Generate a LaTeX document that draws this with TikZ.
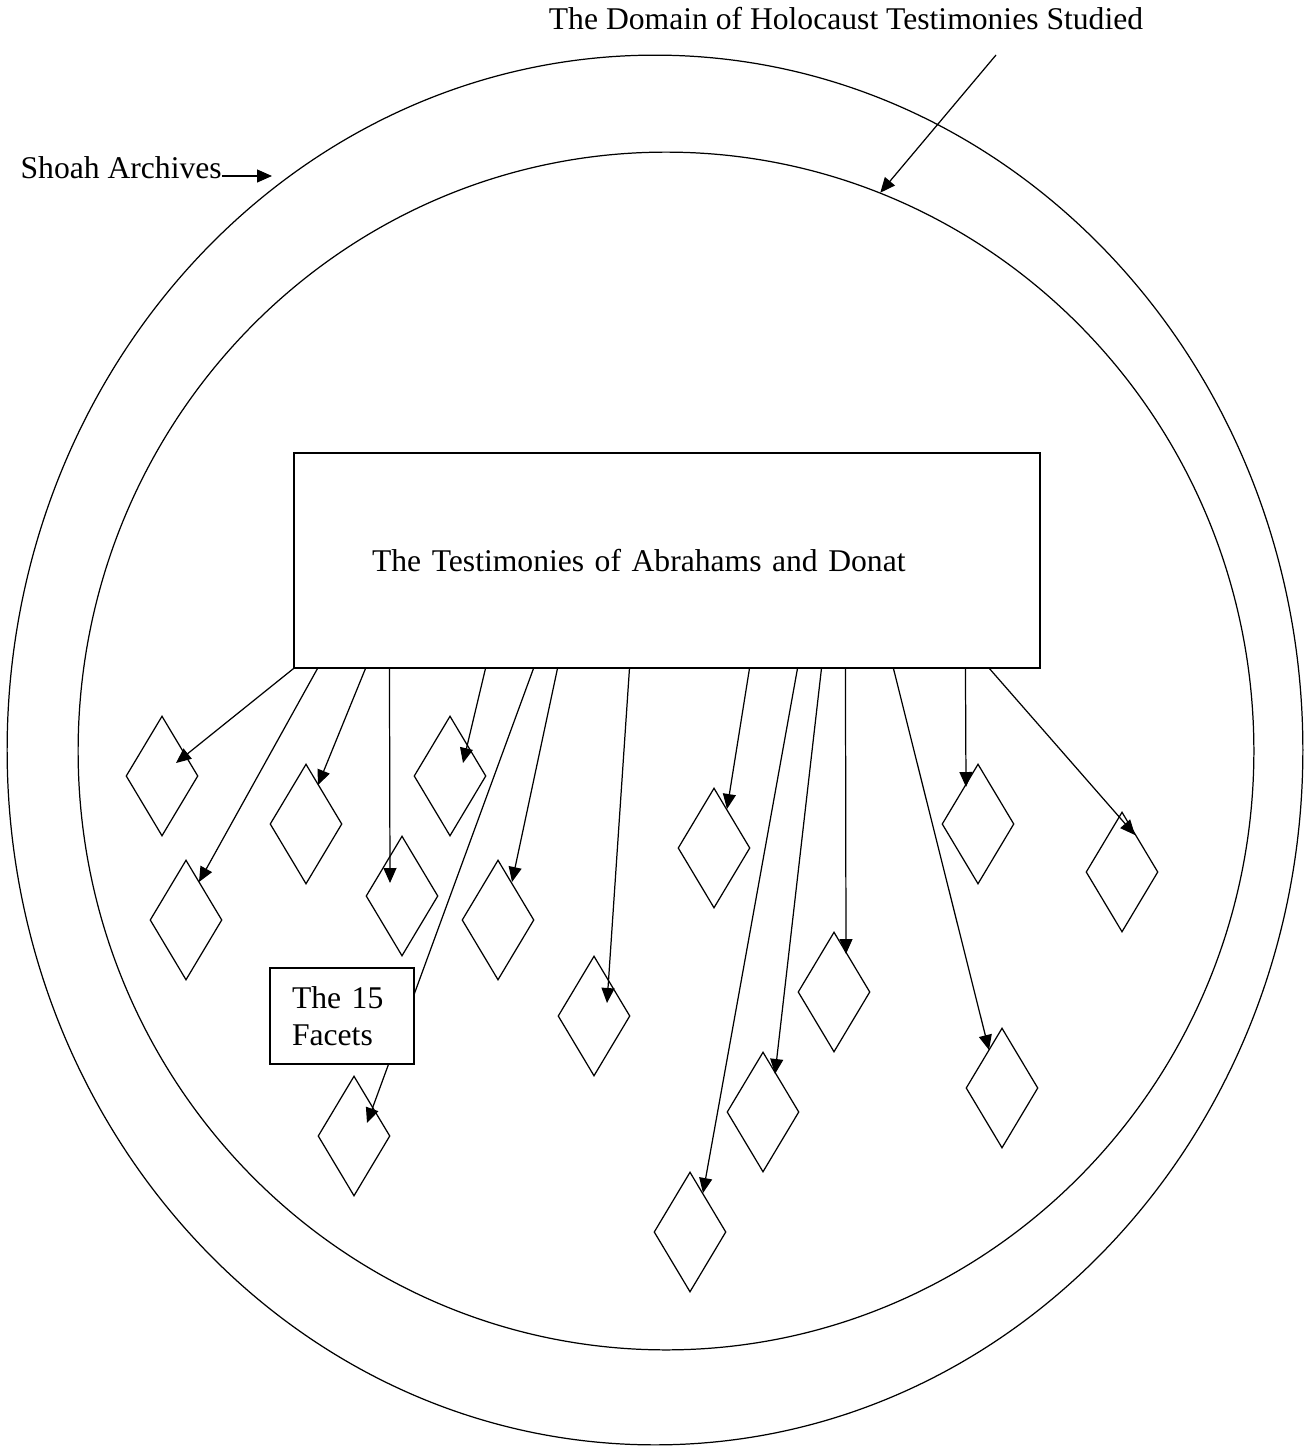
\documentclass[tikz,border=0pt]{standalone}
\usepackage{fontspec}
\setmainfont{Liberation Serif}
\usetikzlibrary{shapes.geometric, arrows.meta, calc}

\begin{document}
\begin{tikzpicture}[
    x=0.02cm, y=-0.02cm,
    line width=0.7pt,
    every node/.style={font=\fontsize{18}{21}\selectfont},
    ring/.style={ellipse, draw, inner sep=0pt},
    facet/.style={diamond, draw, fill=white, inner sep=0pt, minimum width=1.44cm, minimum height=2.4cm},
    mainbox/.style={rectangle, draw, align=left, text width=11.8cm, inner xsep=1.56cm, minimum height=4.3cm},
    tagbox/.style={rectangle, draw, fill=white, align=left, text width=2cm, inner xsep=0.44cm, minimum height=1.92cm},
    plain/.style={inner sep=0pt},
    >={Triangle[length=0.3cm, width=0.26cm]}
]
\useasboundingbox (0,0) rectangle (1311,1447);

\node[ring, minimum width=25.92cm, minimum height=27.8cm] (archive) at (655,750) {};
\node[ring, minimum width=23.52cm, minimum height=23.96cm] (domain) at (666,751) {};

\node[plain, anchor=base] (domaintitle) at (846,29) {The Domain of Holocaust Testimonies Studied};
\node[plain, anchor=base west] (shoah) at (20,178) {Shoah Archives};
\coordinate (shoahtip) at (272,176);
\coordinate (domainstart) at (996,55);
\draw[->] (shoah.base east |- shoahtip) -- (shoahtip);
\draw[->] (domainstart) -- (domain.69);

\node[mainbox] (box) at (667,560.5) {The Testimonies of Abrahams and Donat};

\foreach \n/\x/\y in {1/162/776, 2/186/920, 3/306/824, 4/402/896, 5/450/776,
    6/498/920, 7/594/1016, 8/354/1136, 9/714/848, 10/690/1232,
    11/763/1112, 12/834/992, 13/978/824, 14/1002/1088, 15/1122/872}
    \node[facet] (f\n) at (\x,\y) {};

\foreach \n/\s/\dx/\dy in {1/0/14/-13, 2/24/13/-38, 3/72/12/-39, 4/96/-12/-13,
    5/192/13/-13, 8/240/13/-13, 6/264/14/-38, 7/336/13/-13, 9/456/13/-39,
    10/504/13/-39, 11/528/12/-38, 12/552/12/-38, 14/600/-13/-38,
    13/672/-12/-37, 15/696/13/-37}
    \draw[->] ($(box.south west)+(\s,0)$) -- ($(f\n.center)+(\dx,\dy)$);

\node[tagbox] (facetlabel) at (342,1016) {The 15\\Facets};
\end{tikzpicture}
\end{document}
